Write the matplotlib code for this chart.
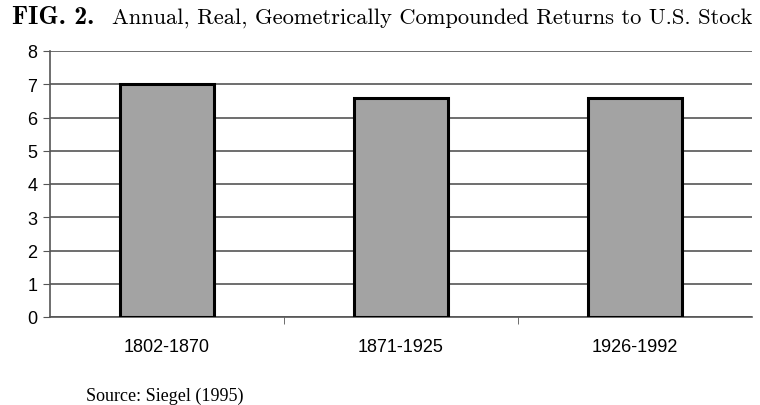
import matplotlib
matplotlib.use("Agg")
import matplotlib.pyplot as plt
import numpy as np

categories = ["1802-1870", "1871-1925", "1926-1992"]
values = [7.0, 6.6, 6.6]
yticks = [0, 1, 2, 3, 4, 5, 6, 7, 8]

fig = plt.figure(figsize=(7.6, 4.06), dpi=100)
ax = fig.add_axes([50/760, 1-318/406, 702/760, 266/406])

x = np.arange(len(categories))
ax.bar(x, values, width=0.4, color="#a3a3a3", edgecolor="black", linewidth=2.2, zorder=3)
ax.set_xlim(-0.5, len(categories) - 0.5)
ax.set_ylim(0, 8)
ax.set_yticks(yticks)
ax.set_yticklabels([str(t) for t in yticks], fontfamily="Liberation Sans", fontsize=13)
ax.yaxis.grid(True, color="#555555", linewidth=1.2, zorder=0)
ax.set_xticks(x)
ax.set_xticklabels(categories, fontfamily="Liberation Sans", fontsize=13)
ax.tick_params(axis="x", length=0, pad=15)
ax.set_xticks([0.5, 1.5], minor=True)
ax.tick_params(axis="x", which="minor", length=5, direction="out", color="#555555")
ax.tick_params(axis="y", length=5, direction="out", color="#555555", pad=4)
for s in ["top", "right"]:
    ax.spines[s].set_visible(False)
for s in ["left", "bottom"]:
    ax.spines[s].set_color("#555555")
    ax.spines[s].set_linewidth(1.2)

fig.text(12/760, 1-18/406, "FIG. 2.", fontfamily="cmb10", fontsize=18.5, va="center", ha="left")
fig.text(112/760, 1-18/406, "Annual, Real, Geometrically Compounded Returns to U.S. Stock",
         fontfamily="cmr10", fontsize=16.2, va="center", ha="left")
fig.text(86/760, 1-396/406, "Source: Siegel (1995)", fontfamily="Liberation Serif",
         fontsize=13, va="center", ha="left")

fig.savefig("out.png", dpi=100)
